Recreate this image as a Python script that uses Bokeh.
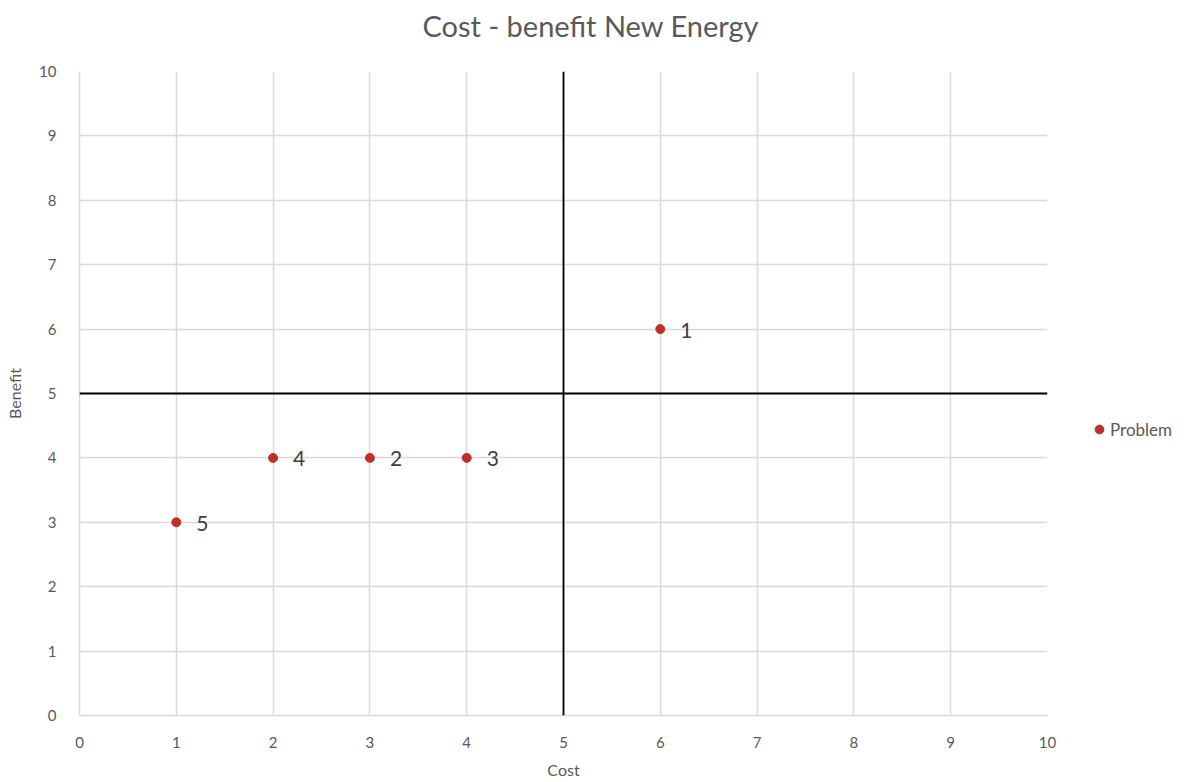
from bokeh.plotting import figure
from bokeh.models import ColumnDataSource, Span, Legend, LegendItem, FixedTicker, Range1d, LabelSet, Title
from bokeh.core.properties import value
from bokeh.embed import file_html
from bokeh.resources import INLINE

cost = [6, 3, 4, 2, 1]
benefit = [6, 4, 4, 4, 3]
labels = ["1", "2", "3", "4", "5"]
ticks = list(range(0, 11))
title_text = "Cost - benefit New Energy"

FONT = "Lato"
TXT = "#595959"

src = ColumnDataSource(dict(x=cost, y=benefit, t=labels))

p = figure(frame_width=968, frame_height=644, output_backend="svg", toolbar_location=None,
           x_range=Range1d(0, 10), y_range=Range1d(0, 10), title=None,
           min_border_left=79, min_border_right=137, min_border_top=71, min_border_bottom=67)
p.outline_line_color = None
p.background_fill_color = "white"
p.border_fill_color = "white"

# spacer between frame and title (closest to frame)
p.add_layout(Title(text=" ", text_font_size="1px", standoff=26), "above")
p.add_layout(Title(text=title_text, align="left", offset=343, vertical_align="bottom",
                   text_font=FONT, text_font_size="29px", text_font_style="normal",
                   text_color=TXT, standoff=0), "above")

for ax in (p.xaxis[0], p.yaxis[0]):
    ax.ticker = FixedTicker(ticks=ticks)
    ax.major_tick_line_color = None
    ax.minor_tick_line_color = None
    ax.axis_line_color = "#d9d9d9"
    ax.axis_line_width = 1.5
    ax.major_label_text_font = FONT
    ax.major_label_text_font_size = "15px"
    ax.major_label_text_color = TXT
    ax.axis_label_text_font = FONT
    ax.axis_label_text_font_size = "16px"
    ax.axis_label_text_font_style = "normal"
    ax.axis_label_text_color = TXT
p.xaxis.axis_label = "Cost"
p.yaxis.axis_label = "Benefit"
p.xaxis.major_label_standoff = 15
p.yaxis.major_label_standoff = 17
p.xaxis.axis_label_standoff = 9
p.yaxis.axis_label_standoff = 12

for g in (p.xgrid[0], p.ygrid[0]):
    g.ticker = FixedTicker(ticks=ticks)
    g.grid_line_color = "#d9d9d9"
    g.grid_line_width = 1.5

p.add_layout(Span(location=5, dimension="height", line_color="black", line_width=1.8))
p.add_layout(Span(location=5, dimension="width", line_color="black", line_width=1.8))

r = p.scatter("x", "y", source=src, size=9, color="#c0302a")
p.add_layout(LabelSet(x="x", y="y", text="t", source=src, x_offset=20, y_offset=-1,
                      text_baseline="middle", text_font=value(FONT), text_font_size="21px",
                      text_color="#404040"))

legend = Legend(items=[LegendItem(label="Problem", renderers=[r])], location=(41, 275),
                label_text_font=FONT, label_text_font_size="17px", label_text_color=TXT,
                border_line_color=None, background_fill_alpha=0, glyph_width=22, glyph_height=22,
                label_standoff=0, padding=0, margin=0, label_height=22)
p.add_layout(legend, "right")

open("out.html", "w").write(file_html(p, INLINE))
